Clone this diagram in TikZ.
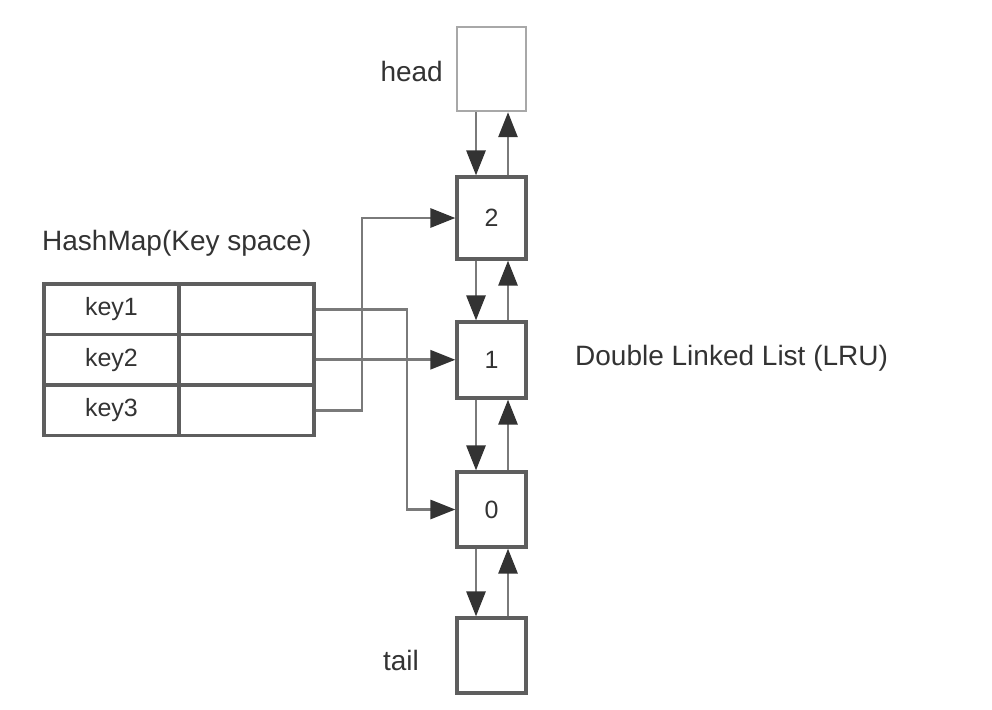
\documentclass[tikz,border=0pt]{standalone}
\usepackage{fontspec}
\setmainfont{Liberation Sans}
\usetikzlibrary{arrows.meta,calc}
\definecolor{txt}{HTML}{333333}
\definecolor{edge}{HTML}{5E5E5E}
\definecolor{lite}{HTML}{A8A8A8}
\definecolor{wire}{HTML}{7A7A7A}
\definecolor{tip}{HTML}{333333}
\tikzset{
  lbox/.style={draw=edge, line width=3.2pt, minimum width=69pt, inner sep=0pt, text=txt, font=\fontsize{25}{29}\selectfont},
  cell/.style={draw=edge, line width=3.4pt, minimum width=135pt, minimum height=50.5pt, inner sep=0pt, text=txt, font=\fontsize{25}{29}\selectfont},
  lbl/.style={text=txt, inner sep=0pt, font=\fontsize{28}{32}\selectfont},
  wirearrow/.style={draw=wire, line width=2.8pt, -{Triangle[length=25pt,width=19pt,color=tip]}},
}
\begin{document}
\begin{tikzpicture}[x=1pt,y=-1pt]
\useasboundingbox (0,0) rectangle (992,709);
% list boxes
\node[lbox, draw=lite, line width=2.4pt, minimum height=84pt] (head) at (491.5,69) {};
\node[lbox, minimum height=82pt] (b2) at (491.5,218) {2};
\node[lbox, minimum height=76pt] (b1) at (491.5,360) {1};
\node[lbox, minimum height=75pt] (b0) at (491.5,509.5) {0};
\node[lbox, minimum height=75pt] (tail) at (491.5,655.5) {};
% labels
\node[lbl, anchor=east] (headlbl) at (443,71) {head};
\node[lbl, anchor=east] (taillbl) at (419,660) {tail};
\node[lbl, anchor=west] (hmlbl) at (42,243) {HashMap(Key space)};
\node[lbl, anchor=west] (dlllbl) at (575,358) {Double Linked List (LRU)};
% table
\node[cell] (k1) at (111.5,309.25) {key1};
\node[cell] (v1) at (246.5,309.25) {};
\node[cell] (k2) at (111.5,359.75) {key2};
\node[cell] (v2) at (246.5,359.75) {};
\node[cell] (k3) at (111.5,410.25) {key3};
\node[cell] (v3) at (246.5,410.25) {};
% helper x positions
\coordinate (dx) at (476,0);
\coordinate (ux) at (508,0);
\coordinate (c1) at (407,0);
\coordinate (c3) at (362,0);
% list links
\foreach \a/\b in {head/b2, b2/b1, b1/b0, b0/tail}{
  \draw[wirearrow] (\a.south -| dx) -- (\b.north -| dx);
  \draw[wirearrow] (\b.north -| ux) -- (\a.south -| ux);
}
% hashmap links
\draw[wirearrow] (v1.east) -- (v1.east -| c1) |- (b0.west);
\draw[wirearrow] (v2.east) -- (v2.east -| b1.west);
\draw[wirearrow] (v3.east) -- (v3.east -| c3) |- (b2.west);
\end{tikzpicture}
\end{document}
